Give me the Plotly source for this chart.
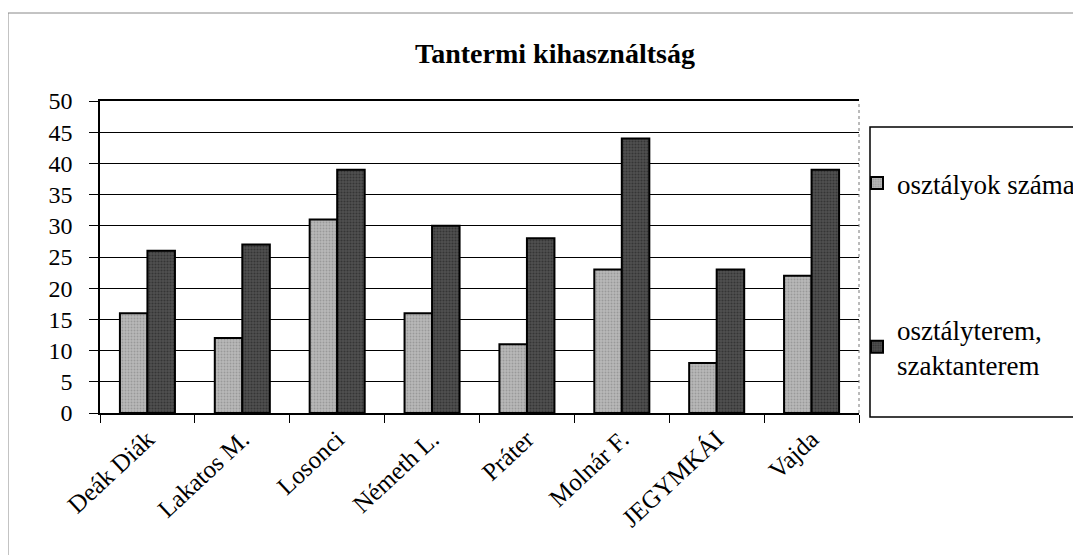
import plotly.graph_objects as go

categories = ["Deák Diák", "Lakatos M.", "Losonci", "Németh L.", "Práter", "Molnár F.", "JEGYMKÁI", "Vajda"]
osztalyok = [16, 12, 31, 16, 11, 23, 8, 22]
termek = [26, 27, 39, 30, 28, 44, 23, 39]
series_names = ["osztályok száma", "osztályterem,<br>szaktanterem"]

OFF = 8  # page body margin
W, H = 1081 - OFF, 555 - OFF
# plot area in reference (window) pixels
L, R, T, B = 100, 859, 101, 413

def px(x):
    return (x - L) / (R - L)

def py(y):
    return (B - y) / (B - T)

font = "Liberation Serif"

fig = go.Figure()
fig.add_trace(go.Bar(
    x=categories, y=osztalyok, name=series_names[0], legendgroup="a",
    marker=dict(color="#ababab", line=dict(color="black", width=2),
                pattern=dict(shape=".", fgcolor="#7a7a7a", bgcolor="#b8b8b8", size=3, solidity=0.3)),
))
fig.add_trace(go.Bar(
    x=categories, y=termek, name=series_names[1], legendgroup="b",
    marker=dict(color="#3c3c3c", line=dict(color="black", width=2),
                pattern=dict(shape=".", fgcolor="#1a1a1a", bgcolor="#505050", size=3, solidity=0.4)),
))

fig.update_layout(
    width=W, height=H,
    margin=dict(l=L - OFF, r=(W + OFF) - R, t=T - OFF, b=(H + OFF) - B, autoexpand=False),
    paper_bgcolor="white", plot_bgcolor="white",
    barmode="group", bargap=0.42, bargroupgap=0,
    font=dict(family=font, color="black", size=24),
    title=dict(text="<b>Tantermi kihasználtság</b>", x=(555 - OFF) / W, xanchor="center",
               y=1 - (53 - OFF) / H, yanchor="middle", font=dict(size=28, family=font)),
    showlegend=True,
    legend=dict(x=px(857), xanchor="left", y=py(159), yanchor="top",
                traceorder="grouped", tracegroupgap=108,
                bgcolor="rgba(0,0,0,0)", borderwidth=0,
                font=dict(size=27, family=font)),
)
fig.update_yaxes(range=[0, 50], dtick=5, showgrid=True, gridcolor="black", gridwidth=1,
                 showline=True, linecolor="black", linewidth=1.5,
                 ticks="outside", ticklen=9, tickcolor="black", ticklabelstandoff=12,
                 tickfont=dict(size=24, family=font), zeroline=False)
fig.update_xaxes(showline=True, linecolor="black", linewidth=1.5, mirror=True,
                 ticks="outside", ticklen=8, tickcolor="black", tickson="boundaries",
                 tickangle=-43, tickfont=dict(size=25, family=font))

shapes = [
    dict(type="rect", xref="paper", yref="paper", x0=px(8), x1=px(1085), y0=py(560), y1=py(13),
         line=dict(color="#888888", width=1)),
    dict(type="line", xref="paper", yref="paper", x0=1, x1=1, y0=0, y1=1,
         line=dict(color="#777777", width=1, dash="dot")),
    dict(type="rect", xref="paper", yref="paper", x0=px(870), x1=px(1095), y0=py(417), y1=py(127),
         line=dict(color="black", width=1.5)),
]
fig.update_layout(shapes=shapes)

fig.write_html("out.html")
